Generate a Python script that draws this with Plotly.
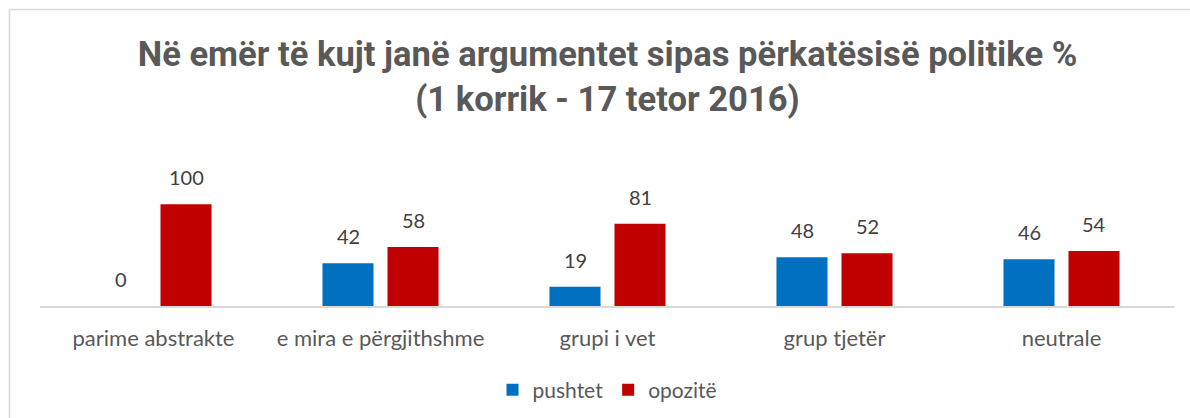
import plotly.graph_objects as go

categories = ["parime abstrakte", "e mira e përgjithshme", "grupi i vet", "grup tjetër", "neutrale"]
pushtet = [0, 42, 19, 48, 46]
opozite = [100, 58, 81, 52, 54]
series_names = ["pushtet", "opozitë"]
colors = ["#0070C0", "#C00000"]
title_lines = ["Në emër të kujt janë argumentet sipas përkatësisë politike %", "(1 korrik - 17 tetor 2016)"]

TEXT = "#595959"
LABEL_FONT = "Lato, Noto Sans, sans-serif"

fig = go.Figure()
for name, vals, col in zip(series_names, [pushtet, opozite], colors):
    fig.add_trace(go.Bar(x=categories, y=vals, name=name, marker=dict(color=col, line=dict(width=0))))

# data labels
for i, vals in enumerate([pushtet, opozite]):
    shift = -32.5 if i == 0 else 32.5
    for c, v in zip(categories, vals):
        fig.add_annotation(x=c, y=v, xref="x", yref="y", text=str(v), showarrow=False,
                           xshift=shift, yanchor="bottom", yshift=13,
                           font=dict(family=LABEL_FONT, size=20, color="#404040"))

# chart frame
L, R, T, B, W, H = 40, 15, 184, 112, 1190, 418
pw, ph = W - L - R, H - T - B
def px_x(p):
    return (p - L) / pw
def px_y(p):
    return (H - B - p) / ph
fig.add_shape(type="line", xref="paper", yref="paper", x0=px_x(9.5), x1=px_x(9.5), y0=px_y(430), y1=px_y(9.5),
              line=dict(color="#d9d9d9", width=1.5))
fig.add_shape(type="line", xref="paper", yref="paper", x0=px_x(9.5), x1=px_x(1200), y0=px_y(9.5), y1=px_y(9.5),
              line=dict(color="#d9d9d9", width=1.5))

fig.update_layout(
    width=W, height=H,
    margin=dict(l=L, r=R, t=T, b=B, autoexpand=False),
    paper_bgcolor="white", plot_bgcolor="white",
    barmode="group", bargap=0.427, bargroupgap=0.215,
    title=dict(text="<b>" + "<br>".join(title_lines) + "</b>", x=0.5, xref="paper", xanchor="center",
               y=1 - 66 / H, yanchor="top",
               font=dict(family="Roboto, sans-serif", size=34.6, color=TEXT)),
    xaxis=dict(showline=True, linecolor="#d9d9d9", linewidth=1.5, showgrid=False,
               ticks="outside", ticklen=12, tickcolor="rgba(0,0,0,0)",
               tickfont=dict(family=LABEL_FONT, size=22, color=TEXT), fixedrange=True),
    yaxis=dict(range=[0, 120], visible=False, showgrid=False, zeroline=False, fixedrange=True),
    legend=dict(orientation="h", x=0.5, xanchor="center", y=px_y(390), yanchor="middle",
                font=dict(family=LABEL_FONT, size=21, color=TEXT), traceorder="normal"),
    showlegend=True,
)

fig.write_html("out.html", config={"displayModeBar": False},
               post_script="document.body.style.margin='0';")
